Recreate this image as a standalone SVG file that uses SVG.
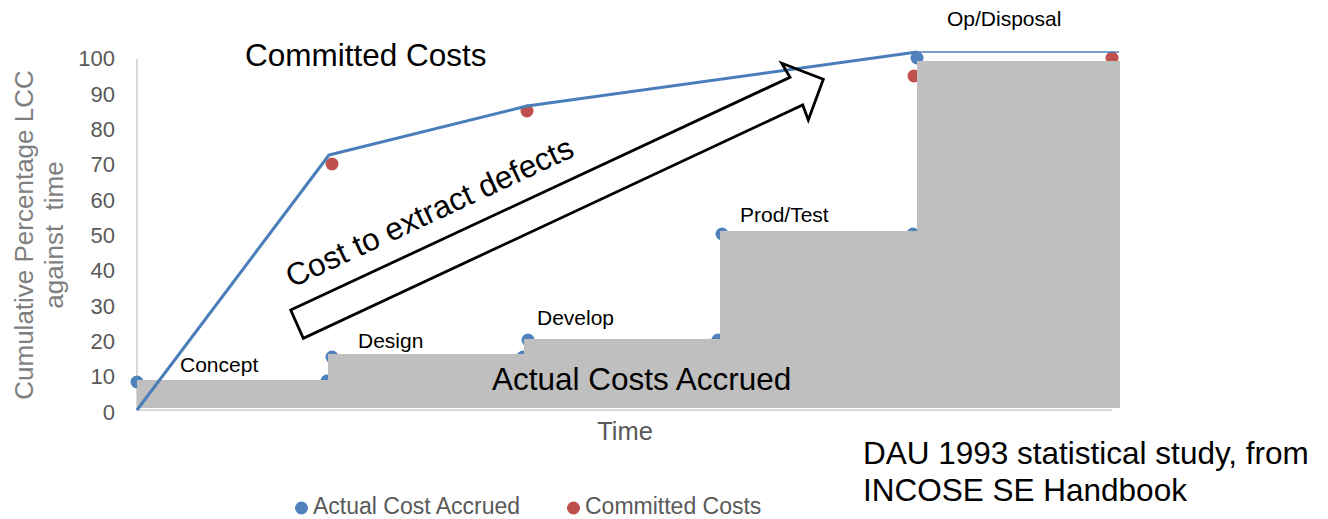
<svg xmlns="http://www.w3.org/2000/svg" width="1328" height="519" viewBox="0 0 1328 519">
<style>
  text { font-family: "Liberation Sans", Arial, sans-serif; }
  .tick { font-size: 22px; fill: #595959; text-anchor: end; }
  .ytitle { font-size: 26px; fill: #7f7f7f; text-anchor: middle; }
  .big { font-size: 31.5px; fill: #000; }
  .phase { font-size: 21px; fill: #000; }
  .leg { font-size: 23px; fill: #595959; }
  .step { fill: #bfbfbf; }
  .blue { fill: #4f81bd; }
  .red { fill: #c0504d; }
</style>
<rect width="1328" height="519" fill="#fff"/>
<g id="axes">
  <line x1="137" y1="59" x2="137" y2="410" stroke="#d9d9d9" stroke-width="2"/>
  <line x1="136" y1="410" x2="1112" y2="410" stroke="#d9d9d9" stroke-width="2"/>
  <text class="tick" x="115" y="66.3">100</text>
  <text class="tick" x="115" y="101.6">90</text>
  <text class="tick" x="115" y="137">80</text>
  <text class="tick" x="115" y="172.3">70</text>
  <text class="tick" x="115" y="207.6">60</text>
  <text class="tick" x="115" y="243">50</text>
  <text class="tick" x="115" y="278.3">40</text>
  <text class="tick" x="115" y="313.6">30</text>
  <text class="tick" x="115" y="349">20</text>
  <text class="tick" x="115" y="384.3">10</text>
  <text class="tick" x="115" y="419.6">0</text>
  <text class="ytitle" transform="translate(33,235) rotate(-90)">Cumulative Percentage LCC</text>
  <text class="ytitle" transform="translate(63,235) rotate(-90)" xml:space="preserve">against  time</text>
  <text x="625" y="440" style="font-size:25.5px;fill:#595959;text-anchor:middle">Time</text>
</g>
<g id="points-under">
  <circle class="blue" cx="137" cy="382" r="6.5"/>
  <circle class="blue" cx="327" cy="381" r="6.5"/>
  <circle class="blue" cx="332" cy="357" r="6.5"/>
  <circle class="blue" cx="523" cy="357" r="6.5"/>
  <circle class="blue" cx="528" cy="340" r="6.5"/>
  <circle class="blue" cx="718" cy="340" r="6.5"/>
  <circle class="blue" cx="722" cy="234" r="6.5"/>
  <circle class="blue" cx="913" cy="234" r="6.5"/>
  <circle class="blue" cx="917" cy="58" r="6.5"/>
  <circle class="red" cx="332" cy="164" r="6.5"/>
  <circle class="red" cx="527" cy="111" r="6.5"/>
  <circle class="red" cx="914" cy="76" r="6.5"/>
  <circle class="red" cx="1112" cy="58" r="6.5"/>
</g>
<g id="steps">
  <rect class="step" x="137" y="380" width="191" height="28"/>
  <rect class="step" x="328" y="354" width="196" height="54"/>
  <rect class="step" x="524" y="339" width="196" height="69"/>
  <rect class="step" x="720" y="231" width="197" height="177"/>
  <rect class="step" x="917" y="61" width="203" height="347"/>
</g>
<g id="connectors">
  <polyline points="137,410 329,155 527,106 917,52" fill="none" stroke="#4a7ebb" stroke-width="3" stroke-linejoin="round"/>
  <line x1="917" y1="52" x2="1119" y2="52" stroke="#4a7ebb" stroke-width="1.5"/>
</g>
<g id="arrow">
  <polygon points="290.7,310 790,77.3 781.7,63.3 823.3,79.3 808.3,120 802.7,105 303.3,338.3" fill="none" stroke="#000" stroke-width="2.8" stroke-linejoin="miter"/>
  <text class="big" transform="translate(292,288) rotate(-25)">Cost to extract defects</text>
</g>
<g id="labels">
  <text class="big" x="245" y="66">Committed Costs</text>
  <text class="big" x="492" y="390">Actual Costs Accrued</text>
  <text class="phase" x="180" y="372">Concept</text>
  <text class="phase" x="358" y="348">Design</text>
  <text class="phase" x="537" y="325">Develop</text>
  <text class="phase" x="740" y="222">Prod/Test</text>
  <text class="phase" x="947" y="26">Op/Disposal</text>
  <text class="big" x="863" y="464">DAU 1993 statistical study, from</text>
  <text class="big" x="863" y="501">INCOSE SE Handbook</text>
</g>
<g id="legend">
  <circle class="blue" cx="301.5" cy="508" r="6.5"/>
  <text class="leg" x="313" y="514">Actual Cost Accrued</text>
  <circle class="red" cx="573.5" cy="508" r="6.5"/>
  <text class="leg" x="585" y="514">Committed Costs</text>
</g>
</svg>
